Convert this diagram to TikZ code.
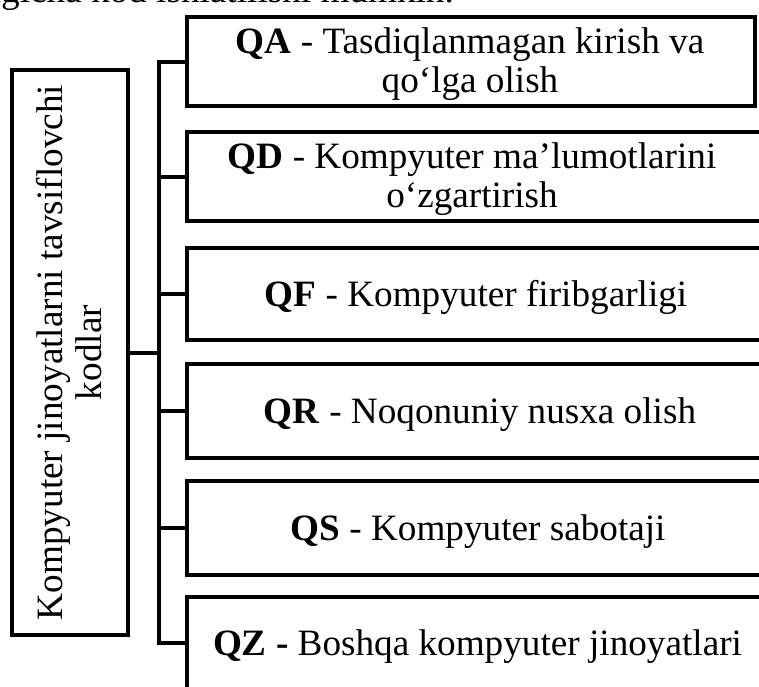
\documentclass[tikz,border=0pt]{standalone}
\usepackage{fontspec}
\setmainfont{Liberation Serif}
\newcommand{\twolines}[2]{\begin{tabular}[t]{@{}c@{}}#1\\#2\end{tabular}}
\begin{document}
\begin{tikzpicture}[x=1pt,y=-1pt,
  frame/.style={draw, line width=4pt, rectangle, inner sep=0pt, outer sep=0pt},
  codebox/.style={frame, minimum width=#1},
  codebox/.default=613pt,
  bigfont/.style={font=\fontsize{37.2}{39}\selectfont},
  codetext/.style={anchor=base, inner sep=0pt, bigfont},
  roottext/.style={anchor=base, inner sep=0pt, rotate=90, bigfont},
  link/.style={line width=4pt}]
\useasboundingbox (0,0) rectangle (759,686);

% running text line above the chart (cut by the page edge)
\node[anchor=base east, inner sep=0pt, bigfont]
  (intro) at (454,2.5) {quyidagicha kod ishlatilishi mumkin.};

% root box
\node[frame, minimum width=116pt, minimum height=565pt] (root) at (70,352.5) {};
\node[roottext] (rootlbl) at (62,352.5) {\twolines{Kompyuter jinoyatlarni tavsiflovchi}{kodlar}};

% code boxes
\node[codebox=568pt, minimum height=89pt] (b1) at (471,61.5) {};
\node[codebox, minimum height=89pt] (b2) at (493.5,176.5) {};
\node[codebox, minimum height=92pt] (b3) at (493.5,294) {};
\node[codebox, minimum height=94pt] (b4) at (493.5,411) {};
\node[codebox, minimum height=94pt] (b5) at (493.5,528) {};
\node[codebox, minimum height=92pt] (b6) at (493.5,643) {};

\node[codetext] (t1) at (470,53.5) {\twolines{\textbf{QA} - Tasdiqlanmagan kirish va}{qo‘lga olish}};
\node[codetext] (t2) at (472,168.5) {\twolines{\textbf{QD} - Kompyuter ma’lumotlarini}{o‘zgartirish}};
\node[codetext] (t3) at (476,306.5) {\textbf{QF} - Kompyuter firibgarligi};
\node[codetext] (t4) at (480,423.5) {\textbf{QR} - Noqonuniy nusxa olish};
\node[codetext] (t5) at (478,540.5) {\textbf{QS} - Kompyuter sabotaji};
\node[codetext] (t6) at (477.5,655) {\textbf{QZ -} Boshqa kompyuter jinoyatlari};

% tree connectors
\foreach \i in {1,...,6} {
  \coordinate (j\i) at (159,0 |- b\i.west);
}
\coordinate (jr) at (159,0 |- root.east);
\draw[link] ([yshift=2pt]j1) -- ([yshift=-2pt]j6);
\foreach \i in {1,...,6} {
  \draw[link] (j\i) -- (b\i.west);
}
\draw[link] (root.east) -- (jr);
\end{tikzpicture}
\end{document}
